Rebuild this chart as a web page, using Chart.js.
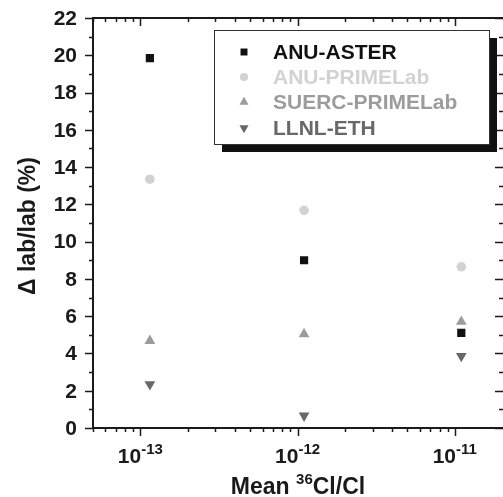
<!DOCTYPE html>
<html>
<head>
<meta charset="utf-8">
<script src="https://cdn.jsdelivr.net/npm/chart.js@4"></script>
<style>
  body { margin: 0; background: #fff; }
  #wrap { width: 503px; height: 497px; }
</style>
</head>
<body>
<div id="wrap"><canvas id="chart" width="503" height="497"></canvas></div>
<script>
// data
const xMeans = [1.15e-13, 1.1e-12, 1.1e-11];
const anuAster = [19.85, 9.0, 5.1];
const anuPrimelab = [13.35, 11.68, 8.65];
const suercPrimelab = [4.68, 5.04, 5.7];
const llnlEth = [2.34, 0.66, 3.86];

const seriesNames = ['ANU-ASTER', 'ANU-PRIMELab', 'SUERC-PRIMELab', 'LLNL-ETH'];
const seriesColors = ['#111111', '#d2d2d2', '#9c9c9c', '#686868'];

const yTicks = [0, 2, 4, 6, 8, 10, 12, 14, 16, 18, 20, 22];
const xDecades = [1e-13, 1e-12, 1e-11];
const xExponents = ['-13', '-12', '-11'];

const FONT = 'Liberation Sans, Arial, sans-serif';

function toPoints(ys){
    return ys.map((y, i) => ({x: xMeans[i], y: y}));
}

const datasets = [
    {label: seriesNames[0], data: toPoints(anuAster), pointStyle: 'rect', pointRadius: 5.8, backgroundColor: seriesColors[0], borderWidth: 0},
    {label: seriesNames[1], data: toPoints(anuPrimelab), pointStyle: 'circle', pointRadius: 4.8, backgroundColor: seriesColors[1], borderWidth: 0},
    {label: seriesNames[2], data: toPoints(suercPrimelab), pointStyle: 'triangle', pointRadius: 6.2, backgroundColor: seriesColors[2], borderWidth: 0},
    {label: seriesNames[3], data: toPoints(llnlEth), pointStyle: 'triangle', rotation: 180, pointRadius: 6.2, backgroundColor: seriesColors[3], borderWidth: 0}
];

// text with a raised smaller part, centred on cx
function supText(ctx, parts, cx, base, big, small, lift){
    let total = 0;
    const widths = parts.map(p => {
        ctx.font = 'bold ' + (p.sup ? small : big) + 'px ' + FONT;
        const w = ctx.measureText(p.t).width;
        total += w;
        return w;
    });
    let x = cx - total / 2;
    parts.forEach((p, i) => {
        ctx.font = 'bold ' + (p.sup ? small : big) + 'px ' + FONT;
        ctx.fillText(p.t, x, p.sup ? base - lift : base);
        x += widths[i];
    });
}

// axes, ticks, titles and the shadowed legend box
const framePlugin = {
    id: 'frame',
    afterDraw(chart){
        const ctx = chart.ctx;
        const xs = chart.scales.x, ys = chart.scales.y;
        const a = chart.chartArea;
        const right = chart.width;   // frame runs to the canvas edge
        ctx.save();
        ctx.strokeStyle = '#1a1a1a';
        ctx.fillStyle = '#1a1a1a';

        // frame lines
        ctx.lineWidth = 2;
        ctx.beginPath();
        ctx.moveTo(a.left, a.top); ctx.lineTo(right, a.top);
        ctx.moveTo(a.left, a.top - 1); ctx.lineTo(a.left, a.bottom + 1);
        ctx.moveTo(a.left, a.bottom); ctx.lineTo(right, a.bottom);
        ctx.stroke();

        // y ticks: outward on left, inward on right
        ctx.lineWidth = 1.5;
        ctx.beginPath();
        for(let v = 0; v <= 22; v++){
            const py = Math.round(ys.getPixelForValue(v)) + 0.5;
            const len = v % 2 === 0 ? 8 : 4;
            ctx.moveTo(a.left - len, py); ctx.lineTo(a.left, py);
            ctx.moveTo(right - len, py); ctx.lineTo(right, py);
        }
        // x ticks: outward at bottom, inward at top
        const decs = [1e-14, 1e-13, 1e-12, 1e-11];
        decs.forEach(d => {
            for(let m = 1; m <= 9; m++){
                const v = d * m;
                if(v < xs.min || v > xs.max) continue;
                const px = Math.round(xs.getPixelForValue(v)) + 0.5;
                const len = m === 1 ? 8 : 4;
                ctx.moveTo(px, a.bottom); ctx.lineTo(px, a.bottom + len);
                ctx.moveTo(px, a.top); ctx.lineTo(px, a.top + len);
            }
        });
        ctx.stroke();

        // y tick labels
        ctx.font = 'bold 21px ' + FONT;
        ctx.textAlign = 'right';
        ctx.textBaseline = 'middle';
        yTicks.forEach(v => {
            ctx.fillText(String(v), a.left - 16, ys.getPixelForValue(v) + 1);
        });

        // x tick labels with superscript exponent
        ctx.textBaseline = 'alphabetic';
        ctx.textAlign = 'left';
        xDecades.forEach((d, i) => {
            supText(ctx, [{t: '10'}, {t: xExponents[i], sup: true}], xs.getPixelForValue(d), 463, 21, 15, 9);
        });

        // x title
        supText(ctx, [{t: 'Mean '}, {t: '36', sup: true}, {t: 'Cl/Cl'}], (a.left + right) / 2, 494, 23, 15, 10);

        // y title
        ctx.save();
        ctx.translate(29, (a.top + a.bottom) / 2 + 3);
        ctx.rotate(-Math.PI / 2);
        ctx.textAlign = 'center';
        ctx.textBaseline = 'middle';
        ctx.font = 'bold 23px ' + FONT;
        ctx.fillText('\u0394 lab/lab (%)', 0, 0);
        ctx.restore();

        // legend box with drop shadow
        const lx = 214, ly = 30, lw = 275, lh = 114;
        ctx.fillStyle = '#111';
        ctx.fillRect(lx + 8, ly + 8, lw, lh);
        ctx.fillStyle = '#fff';
        ctx.fillRect(lx, ly, lw, lh);
        ctx.lineWidth = 1;
        ctx.strokeStyle = '#333';
        ctx.strokeRect(lx + 0.5, ly + 0.5, lw, lh);

        const rowY = [52, 77, 102, 128];
        datasets.forEach((ds, i) => {
            ctx.fillStyle = seriesColors[i];
            Chart.helpers.drawPoint(ctx, {
                pointStyle: ds.pointStyle,
                rotation: ds.rotation || 0,
                radius: ds.pointRadius * 0.85,
                borderWidth: 0
            }, 244, rowY[i]);
            ctx.font = 'bold 21px ' + FONT;
            ctx.textAlign = 'left';
            ctx.textBaseline = 'middle';
            ctx.fillText(seriesNames[i], 273, rowY[i] + 1);
        });
        ctx.restore();
    }
};

new Chart(document.getElementById('chart'), {
    type: 'scatter',
    data: { datasets: datasets },
    options: {
        responsive: false,
        animation: false,
        events: [],
        layout: { padding: { left: 93, top: 18, right: 0, bottom: 69 } },
        plugins: { legend: { display: false }, tooltip: { enabled: false } },
        scales: {
            x: { type: 'logarithmic', min: 5e-14, max: 1.85e-11, display: false },
            y: { type: 'linear', min: 0, max: 22, display: false }
        }
    },
    plugins: [framePlugin]
});
</script>
</body>
</html>
